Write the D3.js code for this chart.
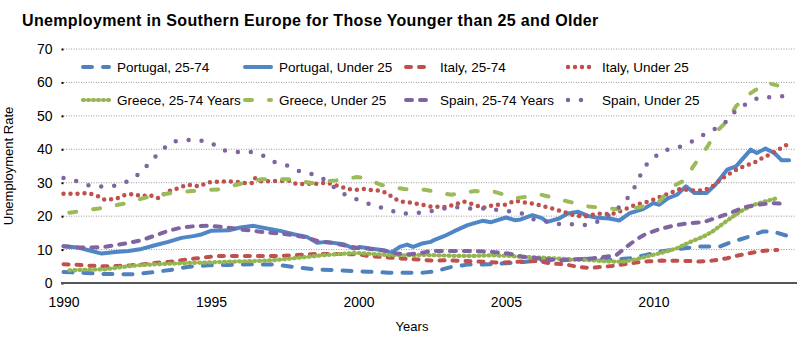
<!DOCTYPE html>
<html>
<head>
<meta charset="utf-8">
<script src="https://cdn.jsdelivr.net/npm/d3@7"></script>
<style>
  body { margin: 0; background: #fff; }
  text { font-family: "Liberation Sans", Arial, sans-serif; fill: #000; }
</style>
</head>
<body>
<div class="container"></div>
<script>
// unemployment rate (%), points as [year, rate]
const portugal2574 = [[1990,3.3],[1990.75,3.0],[1991.4,2.7],[1992.4,2.6],[1993.1,3.3],[1993.7,4.0],[1994.2,4.8],[1994.9,5.3],[1995.6,5.4],[1996.45,5.6],[1997.2,5.5],[1997.8,4.8],[1998.5,4.1],[1999.3,3.8],[2000.3,3.4],[2001,3.1],[2002.2,3.1],[2002.6,3.5],[2003.15,4.8],[2003.7,5.5],[2004.5,5.6],[2004.85,5.8],[2005.6,6.3],[2006.2,6.8],[2006.8,6.8],[2007.9,7.3],[2008.6,6.9],[2009.2,7.4],[2009.75,8.4],[2010.2,9.4],[2010.8,10.1],[2011.5,10.9],[2012.25,10.9],[2012.6,12.1],[2013.25,13.9],[2013.7,15.4],[2014.05,15.4],[2014.5,14.2]];

const portugalU25 = [[1990,11.0],[1990.5,10.6],[1990.85,9.8],[1991.3,8.8],[1991.75,9.3],[1992.2,9.6],[1992.65,10.2],[1993.1,11.3],[1993.55,12.3],[1994,13.5],[1994.45,14.1],[1994.7,14.6],[1995,15.6],[1995.6,15.8],[1996,16.6],[1996.45,17.1],[1996.9,16.3],[1997.35,15.6],[1997.8,14.6],[1998.25,13.8],[1998.6,12.0],[1998.9,12.3],[1999.15,12.0],[1999.5,11.6],[1999.85,10.3],[2000.05,10.8],[2000.4,10.3],[2000.85,9.8],[2001.1,9.0],[2001.4,10.8],[2001.65,11.5],[2001.85,10.8],[2002.15,11.8],[2002.45,12.3],[2002.6,13.0],[2002.9,14.0],[2003.25,15.5],[2003.7,17.3],[2004.2,18.6],[2004.5,18.2],[2005,19.6],[2005.3,18.8],[2005.5,19.0],[2005.9,20.3],[2006.2,19.5],[2006.4,18.3],[2006.8,19.3],[2007.1,20.8],[2007.45,21.3],[2007.8,20.0],[2008.1,19.5],[2008.5,19.3],[2008.85,18.7],[2009.2,20.9],[2009.65,22.1],[2010,23.9],[2010.2,23.4],[2010.5,25.4],[2010.8,26.4],[2011.1,28.9],[2011.4,26.9],[2011.8,26.9],[2012.1,29.4],[2012.5,33.9],[2012.8,34.9],[2013.3,39.9],[2013.5,38.9],[2013.8,40.2],[2014.1,38.9],[2014.35,36.7],[2014.6,36.7]];

const italy2574 = [[1990,5.6],[1990.4,5.5],[1990.85,5.2],[1991.4,5.0],[1991.85,5.1],[1992.3,5.3],[1992.7,5.6],[1993.1,6.0],[1993.55,6.3],[1994,6.8],[1994.45,7.3],[1994.9,7.8],[1995.25,8.1],[1997.35,8.1],[1997.8,8.3],[1998.4,8.6],[1998.7,8.7],[2000,8.6],[2000.3,8.1],[2000.75,7.8],[2001.2,7.5],[2001.65,7.2],[2002.1,7.0],[2002.45,6.7],[2003.05,6.8],[2003.6,6.6],[2004.3,6.3],[2004.85,6.1],[2005.3,6.3],[2006.1,6.6],[2006.55,5.8],[2007,5.6],[2007.45,4.8],[2007.8,4.5],[2008.25,4.8],[2008.6,5.1],[2009,5.6],[2009.4,6.1],[2009.85,6.5],[2010.3,6.7],[2011.2,6.6],[2011.55,6.4],[2012,6.7],[2012.5,7.4],[2012.8,8.1],[2013.25,8.9],[2013.7,9.6],[2014.2,9.9]];

const italyU25 = [[1990,26.7],[1990.4,26.7],[1990.85,26.9],[1991.2,25.9],[1991.4,24.9],[1991.75,25.1],[1992.1,26.4],[1992.4,26.6],[1992.65,25.9],[1992.9,26.4],[1993.2,25.4],[1993.55,27.4],[1993.9,28.4],[1994.2,29.4],[1994.6,28.9],[1994.9,30.1],[1995.35,30.4],[1995.8,30.4],[1996.15,29.9],[1996.45,29.9],[1996.5,31.4],[1996.7,30.4],[1997.7,30.6],[1997.9,29.6],[1998.7,29.7],[1998.9,30.1],[1999.15,29.4],[1999.4,28.9],[1999.6,28.1],[1999.9,27.9],[2000.2,28.1],[2000.5,27.7],[2000.75,27.6],[2000.95,26.9],[2001.2,25.4],[2001.4,24.4],[2001.75,24.1],[2002.15,23.4],[2002.45,22.9],[2002.9,22.7],[2003.25,23.4],[2003.55,24.4],[2003.95,23.4],[2004.2,22.4],[2004.6,23.4],[2005,23.4],[2005.3,24.6],[2005.6,24.1],[2006,23.6],[2006.3,22.9],[2006.65,22.1],[2007,21.2],[2007.35,20.1],[2007.7,19.9],[2008.1,20.7],[2008.6,20.6],[2009,21.9],[2009.4,23.4],[2009.85,24.4],[2010.2,25.7],[2010.55,26.9],[2010.9,28.1],[2011.3,27.7],[2011.7,27.7],[2012,28.9],[2012.35,31.4],[2012.7,33.4],[2013.05,34.9],[2013.4,35.9],[2013.7,37.4],[2014.05,38.9],[2014.5,41.2]];

const greece2574 = [[1990.2,3.8],[1990.85,4.0],[1991.4,4.1],[1992,4.8],[1992.55,5.3],[1993.1,5.6],[1993.7,5.8],[1994.2,6.0],[1994.8,6.1],[1995.35,6.3],[1996.15,6.5],[1996.55,6.6],[1997.1,6.8],[1997.7,7.3],[1998.25,7.8],[1998.8,8.3],[1999.4,8.7],[1999.95,9.0],[2000.3,8.8],[2000.75,8.5],[2001.2,8.3],[2001.65,8.3],[2002.2,8.4],[2003.4,8.1],[2003.95,8.1],[2004.5,8.3],[2005.1,8.1],[2005.65,7.8],[2006.2,7.6],[2006.8,7.3],[2007.35,7.0],[2007.9,6.8],[2008.6,6.4],[2009,6.4],[2009.4,7.1],[2009.85,8.1],[2010.3,9.1],[2010.8,10.4],[2011.2,12.1],[2011.7,13.9],[2012,15.4],[2012.35,17.7],[2012.7,19.9],[2013.05,21.9],[2013.4,23.4],[2013.7,24.2],[2014.2,25.4]];

const greeceU25 = [[1990.2,21.0],[1991.2,22.3],[1992.1,23.8],[1992.75,25.5],[1993.55,26.8],[1994.35,27.5],[1995.25,28.0],[1996,29.7],[1996.7,31.0],[1997.7,31.0],[1998.4,29.9],[1999.25,30.7],[1999.95,31.7],[2000.2,31.4],[2000.75,29.4],[2001.55,28.1],[2002.25,27.9],[2003.15,26.4],[2003.95,27.5],[2004.6,27.3],[2005.35,25.4],[2006.2,26.4],[2007,24.6],[2007.8,22.9],[2008.35,22.4],[2009.1,21.9],[2009.65,22.9],[2010.2,24.4],[2010.65,28.9],[2011.1,30.9],[2011.35,34.9],[2011.8,40.4],[2012.15,45.4],[2012.5,48.4],[2012.8,52.9],[2013.15,55.9],[2013.4,57.4],[2013.85,59.9],[2014.2,59.1]];

const spain2574 = [[1990,11.0],[1990.5,10.6],[1991.3,10.7],[1991.75,11.3],[1992.2,12.0],[1992.65,12.8],[1993.1,14.2],[1993.55,15.6],[1994,16.6],[1994.45,17.0],[1994.9,17.1],[1995.35,16.8],[1995.8,16.3],[1996,16.0],[1996.45,15.6],[1996.9,15.1],[1997.35,14.8],[1997.8,14.3],[1998.25,13.6],[1998.7,12.3],[1999.15,12.0],[1999.6,11.1],[1999.95,10.5],[2000.3,10.3],[2000.6,10.0],[2000.95,9.6],[2001.3,8.8],[2001.75,8.6],[2002.2,9.1],[2002.45,9.6],[2003.4,9.6],[2004,9.5],[2004.5,9.3],[2005.1,8.8],[2005.6,7.8],[2006.2,7.3],[2006.8,6.8],[2007.35,7.1],[2007.9,7.3],[2008.5,8.0],[2008.75,8.4],[2009.1,10.9],[2009.4,12.9],[2009.75,14.7],[2010.2,16.1],[2010.65,17.1],[2011.2,17.9],[2011.7,18.2],[2012.1,19.4],[2012.6,20.9],[2013.05,22.6],[2013.5,23.4],[2014,23.9],[2014.4,23.7]];

const spainU25 = [[1990,31.4],[1990.5,30.4],[1990.95,28.9],[1991.4,28.9],[1991.85,29.2],[1992.25,30.7],[1992.65,33.2],[1992.95,36.4],[1993.3,39.4],[1993.65,42.2],[1994.1,42.8],[1994.55,42.8],[1995,42.0],[1995.35,39.8],[1995.8,39.2],[1996.3,39.3],[1996.75,38.2],[1997.15,36.2],[1997.6,35.1],[1998,33.4],[1998.5,32.4],[1998.9,30.7],[1999.25,28.1],[1999.65,25.9],[2000.1,24.6],[2000.5,23.1],[2000.95,22.2],[2001.4,20.7],[2001.85,20.9],[2002.3,21.2],[2002.7,22.0],[2003.25,22.8],[2003.7,22.3],[2004.2,22.3],[2004.6,22.0],[2005.1,21.5],[2005.55,20.8],[2006,18.8],[2006.45,18.3],[2006.9,17.5],[2007.35,17.6],[2007.8,17.3],[2008.25,18.8],[2008.6,21.0],[2009,23.9],[2009.25,26.9],[2009.5,30.9],[2009.65,34.4],[2010,37.4],[2010.35,39.7],[2010.8,40.4],[2011.25,42.1],[2011.65,44.1],[2012.05,45.9],[2012.45,48.2],[2012.75,51.1],[2013.15,53.6],[2013.55,55.4],[2014,55.6],[2014.45,55.9]];

const yTicks = [0, 10, 20, 30, 40, 50, 60, 70];
const xTicks = [1990, 1995, 2000, 2005, 2010];

// legend order: row by row, four per row
const series = [
  { name: "Portugal, 25-74", data: portugal2574, color: "#4f81bd", dash: "9,11", w: 4 },
  { name: "Portugal, Under 25", data: portugalU25, color: "#4f86c6", dash: null, w: 4 },
  { name: "Italy, 25-74", data: italy2574, color: "#c0504d", dash: "5,8", w: 4 },
  { name: "Italy, Under 25", data: italyU25, color: "#c0504d", dash: "0,7", w: 4.5 },
  { name: "Greece, 25-74 Years", data: greece2574, color: "#93b64f", dash: "1,4", w: 4.2 },
  { name: "Greece, Under 25", data: greeceU25, color: "#9bbb59", dash: "7,17", w: 4 },
  { name: "Spain, 25-74 Years", data: spain2574, color: "#8064a2", dash: "6,8", w: 4 },
  { name: "Spain, Under 25", data: spainU25, color: "#8064a2", dash: "0,13", w: 4.5 },
];

const W = 800, H = 340;
const svg = d3.select(".container").append("svg")
  .attr("width", W).attr("height", H);

const x = d3.scaleLinear().domain([1990, 2014.8]).range([63.5, 795]);
const y = d3.scaleLinear().domain([0, 70]).range([283, 49]);

// title
svg.append("text")
  .attr("x", 22).attr("y", 26)
  .style("font-size", "16px").style("font-weight", "bold")
  .style("letter-spacing", "0.35px")
  .text("Unemployment in Southern Europe for Those Younger than 25 and Older");

// gridlines
svg.append("g").selectAll("line")
  .data(yTicks.filter(d => d > 0))
  .join("line")
  .attr("x1", x(1990)).attr("x2", 795)
  .attr("y1", d => y(d)).attr("y2", d => y(d))
  .attr("stroke", "#9a9a9a").attr("stroke-width", 1)
  .attr("stroke-dasharray", "1,1.5");

// y axis: labels and tick dots
const yAxis = d3.axisLeft(y).tickValues(yTicks).tickSize(2).tickPadding(9);
const gy = svg.append("g").attr("transform", `translate(${x(1990)},0)`).call(yAxis);
gy.select(".domain").remove();
gy.selectAll(".tick line").attr("stroke", "#000").attr("stroke-width", 2);
gy.selectAll(".tick text").style("font-size", "14px").style("font-family", "Liberation Sans, Arial, sans-serif").attr("fill", "#000");

// x axis
const xAxis = d3.axisBottom(x).tickValues(xTicks).tickFormat(d3.format("d")).tickSize(0).tickPadding(14);
const gx = svg.append("g").attr("transform", `translate(0,${y(0)})`).call(xAxis);
gx.select(".domain").remove();
gx.selectAll(".tick text").style("font-size", "14px").style("font-family", "Liberation Sans, Arial, sans-serif").attr("fill", "#000");

svg.append("line")
  .attr("x1", 61).attr("x2", 797)
  .attr("y1", y(0)).attr("y2", y(0))
  .attr("stroke", "#555").attr("stroke-width", 2);

// axis titles
svg.append("text")
  .attr("transform", `translate(13,${(y(0) + y(70)) / 2}) rotate(-90)`)
  .attr("text-anchor", "middle")
  .style("font-size", "13px")
  .text("Unemployment Rate");

svg.append("text")
  .attr("x", 412).attr("y", 331)
  .attr("text-anchor", "middle")
  .style("font-size", "13px")
  .text("Years");

// lines
const line = d3.line().x(d => x(d[0])).y(d => y(d[1]));

svg.append("g").selectAll("path")
  .data(series)
  .join("path")
  .attr("d", d => line(d.data))
  .attr("fill", "none")
  .attr("stroke", d => d.color)
  .attr("stroke-width", d => d.w)
  .attr("stroke-linecap", "round")
  .attr("stroke-linejoin", "round")
  .attr("stroke-dasharray", d => d.dash);

// legend
const colX = [81, 243, 404, 566];
const rowY = [67, 100];
const leg = svg.append("g").selectAll("g")
  .data(series)
  .join("g")
  .attr("transform", (d, i) => `translate(${colX[i % 4]},${rowY[Math.floor(i / 4)]})`);

leg.append("line")
  .attr("x1", 2).attr("x2", 28)
  .attr("stroke", d => d.color)
  .attr("stroke-width", d => d.w)
  .attr("stroke-linecap", "round")
  .attr("stroke-dasharray", d => d.dash);

leg.append("text")
  .attr("x", 36).attr("y", 5)
  .style("font-size", "13.5px")
  .text(d => d.name);
</script>
</body>
</html>
